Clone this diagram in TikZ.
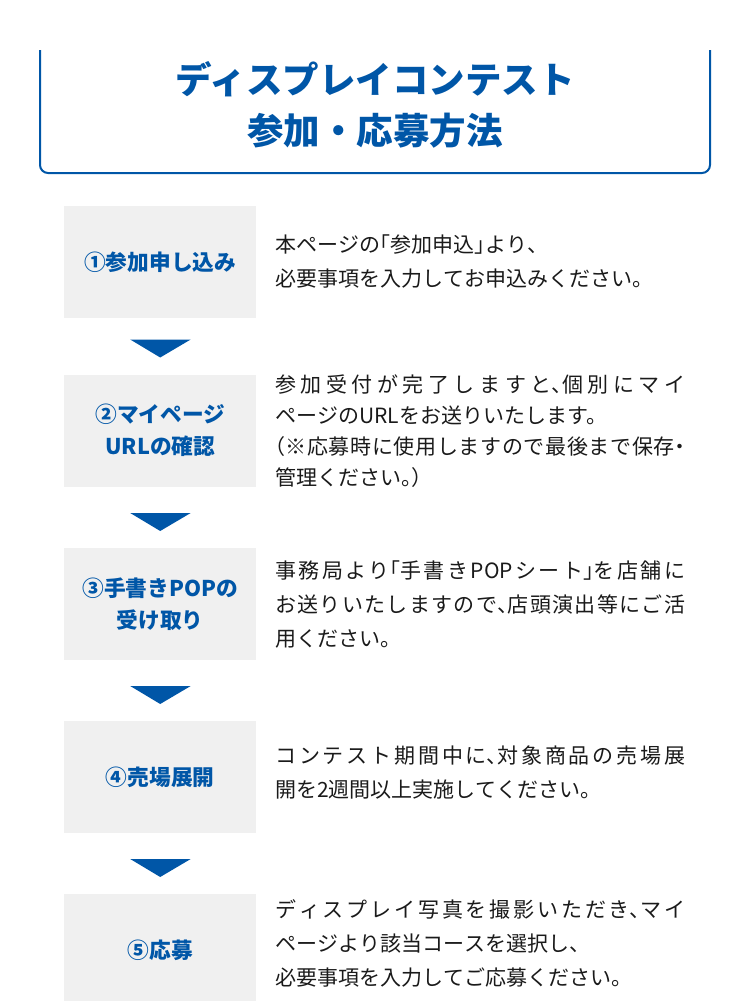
\documentclass[tikz,border=0pt]{standalone}
\usepackage{fontspec}
\newfontfamily\jp{Noto Sans CJK JP}
\newfontfamily\jph{Noto Sans CJK JP}[RawFeature=+halt]
\newcommand{\halfw}[1]{{\jph #1}}
\usetikzlibrary{calc}
\XeTeXlinebreaklocale "ja"
\XeTeXlinebreakskip=0pt plus 6pt minus 0.5pt
\tolerance=10000
\definecolor{navi}{RGB}{0,86,167}
\definecolor{panel}{RGB}{240,240,240}
\definecolor{ink}{RGB}{26,26,26}

\begin{document}
\begin{tikzpicture}[x=1pt, y=-1pt,
    stepbox/.style={rectangle, fill=panel, anchor=north west, inner sep=0pt,
                    minimum width=192pt, minimum height=112pt, align=center,
                    text=navi, font=\jp\bfseries\fontsize{21.7}{32}\selectfont},
    desc/.style={anchor=west, inner sep=0pt, text width=410pt, align=justify,
                 text=ink, font=\jp\fontsize{21}{34}\selectfont},
  ]
  \useasboundingbox (0,0) rectangle (750,1001);
  \draw[navi, line width=2pt, rounded corners=8pt] (40,50) -- (40,173) -- (710,173) -- (710,50);
  \node[align=center, text=navi, font=\jp\bfseries\fontsize{36.5}{51}\selectfont] (title) at (375,105)
    {ディスプレイコンテスト\\参加・応募方法};

  \node[stepbox] (s1) at (64,206) {①参加申し込み};
  \node[stepbox] (s2) at (64,374.5) {②マイページ\\URLの確認};
  \node[stepbox] (s3) at (64,548) {③手書きPOPの\\受け取り};
  \node[stepbox] (s4) at (64,721) {④売場展開};
  \node[stepbox] (s5) at (64,894) {⑤応募};

  \node[desc] (d1) at (275,261)
    {本ページの\halfw{「}参加申込\halfw{」}より\halfw{、}\\必要事項を入力してお申込みください。};
  \node[desc, font=\jp\fontsize{21}{31}\selectfont] (d2) at (275,431)
    {参加受付が完了しますと\halfw{、}個別にマイ\linebreak ページのURLをお送りいたします。\\\halfw{（}※応募時に使用しますので最後まで保存\halfw{・}\linebreak 管理ください\halfw{。}）};
  \node[desc] (d3) at (275,605)
    {事務局より\halfw{「}手書きPOPシート\halfw{」}を店舗に\linebreak お送りいたしますので\halfw{、}店頭演出等にご活\linebreak 用ください。};
  \node[desc] (d4) at (275,772)
    {コンテスト期間中に\halfw{、}対象商品の売場展\linebreak 開を2週間以上実施してください。};
  \node[desc] (d5) at (275,943)
    {ディスプレイ写真を撮影いただき\halfw{、}マイ\linebreak ページより該当コースを選択し\halfw{、}\\必要事項を入力してご応募ください。};

  \foreach \b in {s2,s3,s4,s5}
    \fill[navi] ($(\b.north)+(-30,-35)$) -- ($(\b.north)+(30.5,-35)$) -- ($(\b.north)+(0,-17)$) -- cycle;
\end{tikzpicture}
\end{document}
